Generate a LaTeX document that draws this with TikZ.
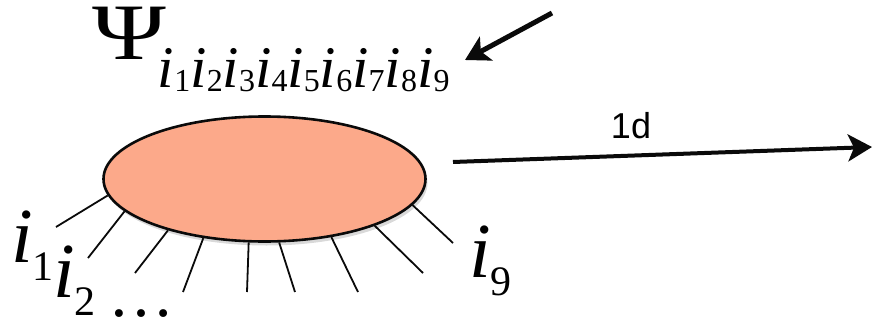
\documentclass[tikz,border=0pt]{standalone}
\usepackage{fontspec}
\setmainfont{Liberation Serif}
\newfontfamily\arialfont{Liberation Sans}
\definecolor{BSalmon}{HTML}{FCA98A}
\definecolor{BInk}{HTML}{0A0A0A}
\usepackage{tikz}
\usetikzlibrary{arrows.meta,positioning,shapes.geometric,shadows}

\newcommand{\psiidx}[1]{{\fontsize{59}{59}\selectfont\itshape i}\raisebox{-4pt}{\fontsize{32}{32}\selectfont #1}}
\newcommand{\legidx}[1]{{\fontsize{78}{78}\selectfont\itshape i}\raisebox{-18pt}{\fontsize{42}{42}\selectfont #1}}

\begin{document}
\begin{tikzpicture}[x=1pt,y=-1pt,
    leg/.style={line width=1.8pt,draw=BInk},
    bigarrow/.style={draw=BInk,line width=4pt,-{Stealth[length=24pt,width=27pt,inset=6pt]}},
    label/.style={anchor=base west,inner sep=0pt}]
  \useasboundingbox (0,0) rectangle (874,326);
  \node[ellipse,draw=BInk,line width=2.6pt,minimum width=322pt,minimum height=125pt,fill=BSalmon,
        drop shadow={shadow xshift=2pt,shadow yshift=-4pt,opacity=.3}] (blob) at (264.5,179) {};
  \foreach \ang/\ex/\ey [count=\k] in {186/56/227,193/88/258,208/135/273,224/183/292,
      256/247/292,283/295/292,319/358/292,337/423/273,350/453/243}{
    \coordinate (end\k) at (\ex,\ey);
    \draw[leg] (blob.\ang) -- (end\k);
  }
  \node[label] (psi) at (92,60) {\smash{\scalebox{1.25}[1]{\fontsize{80}{80}\selectfont Ψ}}\kern-8pt\raisebox{-28pt}{%
    \psiidx{1}\psiidx{2}\psiidx{3}\psiidx{4}\psiidx{5}\psiidx{6}\psiidx{7}\psiidx{8}\psiidx{9}}};
  \node[label] (i1) at (11,262) {\legidx{1}};
  \node[label] (i2) at (53,297) {\legidx{2}};
  \node[label] (dots) at (108,316) {\fontsize{66}{66}\selectfont …};
  \node[label] (i9) at (469,277) {\legidx{9}};
  % arrows
  \coordinate (dimA) at (453,162);
  \coordinate (dimB) at (872,147);
  \draw[bigarrow] (dimA) -- (dimB);
  \node[anchor=base,inner sep=0pt] (dimlabel) at (631,138) {\arialfont\fontsize{36}{36}\selectfont 1d};
  \coordinate (noteA) at (552,13);
  \coordinate (noteB) at (465,60);
  \draw[bigarrow,line width=5pt] (noteA) -- (noteB);
\end{tikzpicture}
\end{document}
